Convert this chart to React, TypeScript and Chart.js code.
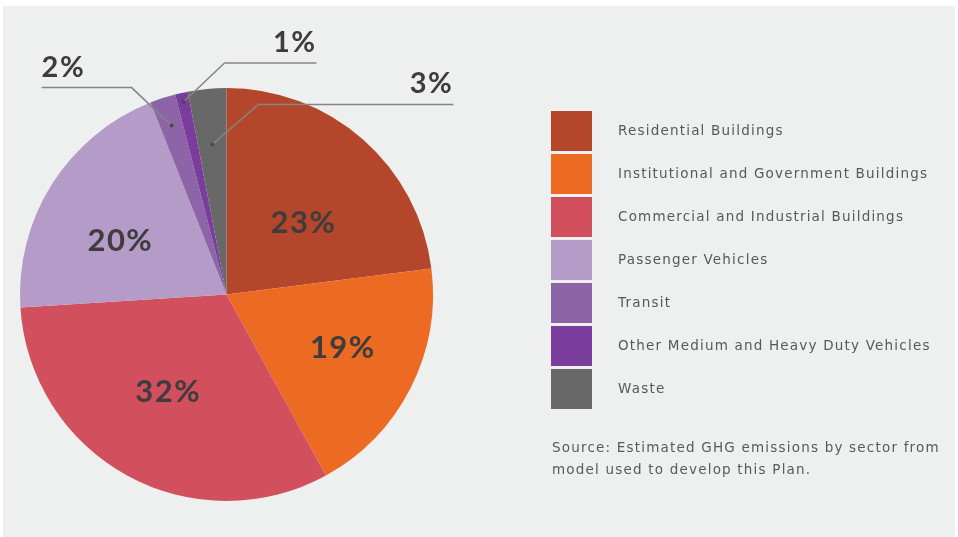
import React, { useEffect, useRef } from "react";
import { Chart, registerables } from "chart.js";

Chart.register(...registerables);

const categories = [
  "Residential Buildings",
  "Institutional and Government Buildings",
  "Commercial and Industrial Buildings",
  "Passenger Vehicles",
  "Transit",
  "Other Medium and Heavy Duty Vehicles",
  "Waste",
];
const shares = [23, 19, 32, 20, 2, 1, 3];
const sliceColors = ["#b4462b", "#ec6a22", "#d2505e", "#b59bc8", "#8d64a8", "#7b3d9d", "#676867"];
const sourceLines = [
  "Source: Estimated GHG emissions by sector from",
  "model used to develop this Plan.",
];

// inside label placement (radial fraction, angle nudge in degrees) for large slices
const insidePlacement: Record<number, { frac: number; nudge: number }> = {
  0: { frac: 0.51, nudge: 5.5 },
  1: { frac: 0.62, nudge: -2.3 },
  2: { frac: 0.55, nudge: 2.1 },
  3: { frac: 0.575, nudge: -5.8 },
};

// callout layout for small slices: dot radial fraction, elbow offset from dot, horizontal run
const callouts = [
  { index: 4, frac: 0.86, elbow: [-40, -38], run: -90 },
  { index: 5, frac: 0.955, elbow: [41, -39], run: 92 },
  { index: 6, frac: 0.73, elbow: [46, -40], run: 195 },
];

const pctFont = "bold 31px Lato, 'DejaVu Sans', sans-serif";
const calloutFont = "bold 29px Lato, 'DejaVu Sans', sans-serif";
const textColor = "#3e3c3c";

const decorPlugin = {
  id: "decor",
  afterDatasetsDraw(chart: any) {
    const ctx = chart.ctx as any;
    const meta = chart.getDatasetMeta(0);
    ctx.save();
    // inside labels
    ctx.font = pctFont;
    ctx.letterSpacing = "1.5px";
    ctx.fillStyle = textColor;
    ctx.textAlign = "center";
    ctx.textBaseline = "middle";
    meta.data.forEach((arc: any, i: number) => {
      const place = insidePlacement[i];
      if (!place) return;
      const p = arc.getProps(["x", "y", "startAngle", "endAngle", "outerRadius"], true);
      const mid = (p.startAngle + p.endAngle) / 2 + (place.nudge * Math.PI) / 180;
      const r = p.outerRadius * place.frac;
      ctx.fillText(shares[i] + "%", p.x + Math.cos(mid) * r, p.y + Math.sin(mid) * r);
    });
    // callouts
    callouts.forEach((c) => {
      const arc = meta.data[c.index];
      const p = arc.getProps(["x", "y", "startAngle", "endAngle", "outerRadius"], true);
      const mid = (p.startAngle + p.endAngle) / 2;
      const r = p.outerRadius * c.frac;
      const dx = p.x + Math.cos(mid) * r;
      const dy = p.y + Math.sin(mid) * r;
      const ex = dx + c.elbow[0];
      const ey = dy + c.elbow[1];
      const lx = ex + c.run;
      ctx.strokeStyle = "#858585";
      ctx.lineWidth = 1.5;
      ctx.beginPath();
      ctx.moveTo(dx, dy);
      ctx.lineTo(ex, ey);
      ctx.lineTo(lx, ey);
      ctx.stroke();
      ctx.fillStyle = "#4a4a4a";
      ctx.beginPath();
      ctx.arc(dx, dy, 2, 0, Math.PI * 2);
      ctx.fill();
      ctx.font = calloutFont;
      ctx.letterSpacing = "1.5px";
      ctx.fillStyle = textColor;
      ctx.textBaseline = "alphabetic";
      ctx.textAlign = c.run < 0 ? "left" : "right";
      ctx.fillText(shares[c.index] + "%", lx, ey - 11);
    });
    // legend
    const lx0 = 551, ly0 = 111, bw = 41, bh = 40, pitch = 43, tx = 618;
    ctx.textAlign = "left";
    ctx.textBaseline = "middle";
    ctx.font = "13.5px 'DejaVu Sans', sans-serif";
    ctx.letterSpacing = "1.2px";
    categories.forEach((name, i) => {
      const y = ly0 + i * pitch;
      ctx.fillStyle = sliceColors[i];
      ctx.fillRect(lx0, y, bw, bh);
      ctx.fillStyle = "#585858";
      ctx.fillText(name, tx, y + bh / 2);
    });
    // source note
    sourceLines.forEach((line, i) => {
      ctx.fillStyle = "#5a5a5a";
      ctx.fillText(line, 552, 448 + i * 22);
    });
    ctx.restore();
  },
};

export default function App() {
  const ref = useRef<HTMLCanvasElement | null>(null);
  useEffect(() => {
    if (!ref.current) return;
    const chart = new Chart(ref.current, {
      type: "pie",
      data: {
        labels: categories,
        datasets: [
          {
            data: shares,
            backgroundColor: sliceColors,
            borderWidth: 0,
          },
        ],
      },
      options: {
        responsive: false,
        animation: false,
        layout: { padding: { left: 20, right: 525, top: 88, bottom: 36 } },
        plugins: {
          legend: { display: false },
          tooltip: { enabled: false },
        },
      },
      plugins: [decorPlugin],
    });
    return () => chart.destroy();
  }, []);
  return (
    <div style={{ position: "absolute", left: 0, top: 0, width: 958, height: 537, background: "#ffffff", overflow: "hidden" }}>
      <div style={{ position: "absolute", left: 3, top: 6, width: 952, height: 531, background: "#edf0ef" }} />
      <canvas ref={ref} width={958} height={537} style={{ position: "absolute", left: 0, top: 0, width: 958, height: 537 }} />
    </div>
  );
}
